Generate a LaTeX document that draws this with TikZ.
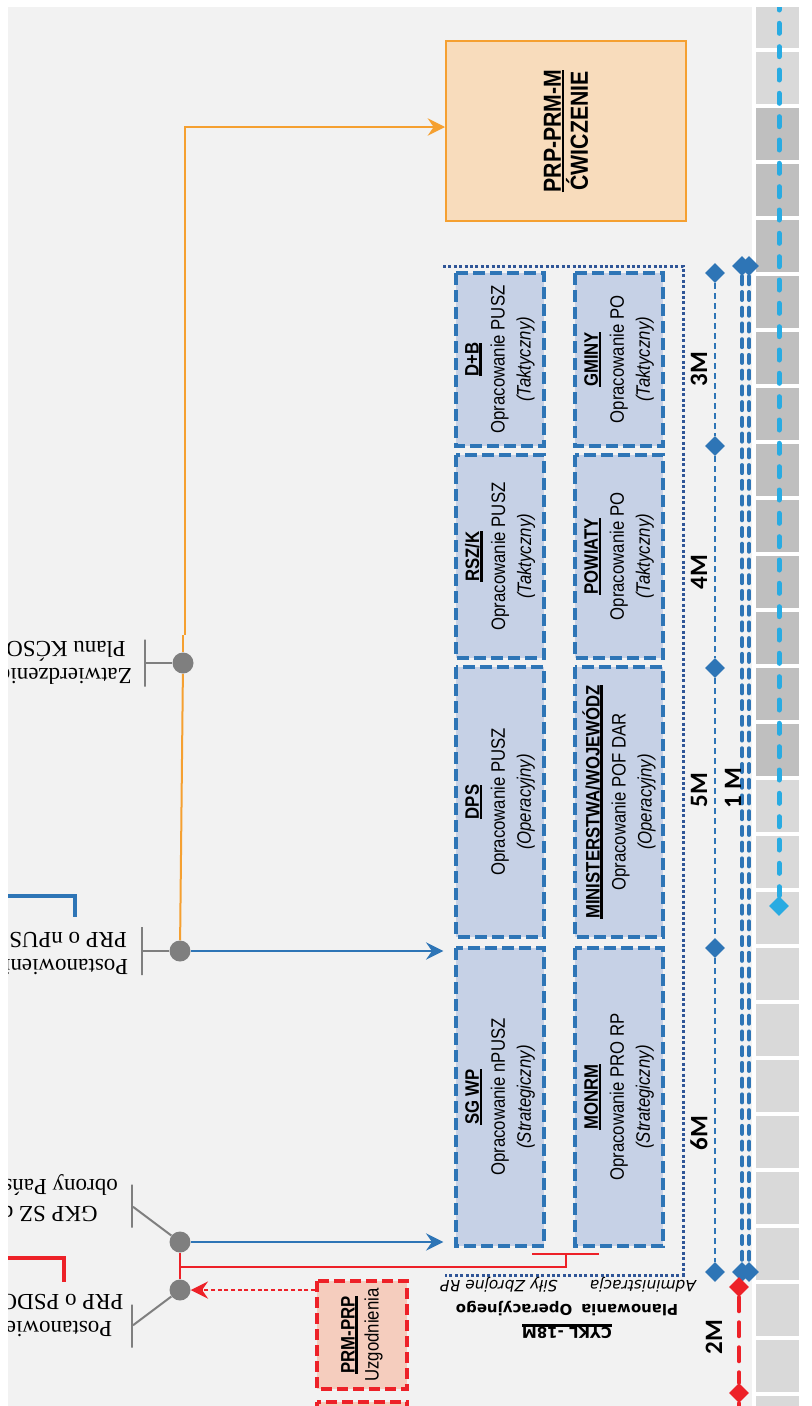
\documentclass[tikz,border=0pt]{standalone}
\usepackage{fontspec}
\usetikzlibrary{arrows.meta,shapes.geometric}
\setmainfont{Liberation Sans}
\newfontfamily\boxfont[FakeStretch=0.86]{Liberation Sans}
\newfontfamily\labelfont{Liberation Serif}
\newfontfamily\cyklfont{DejaVu Sans}
\newfontfamily\periodfont{Carlito}
\newsavebox\ttlbox
\newcommand{\ttl}[1]{\sbox\ttlbox{#1}\rlap{\rule[-2.6pt]{\wd\ttlbox}{2pt}}\usebox\ttlbox}
\newcommand{\plantxt}[3]{\textbf{\ttl{#1}}\\#2\\\textit{(#3)}}
\definecolor{bg}{HTML}{F2F2F2}
\definecolor{tilelight}{HTML}{D9D9D9}
\definecolor{tiledark}{HTML}{BFBFBF}
\definecolor{planblue}{HTML}{2E75B6}
\definecolor{planfill}{HTML}{C6D1E6}
\definecolor{dotblue}{HTML}{2F5597}
\definecolor{skyblue}{HTML}{29ABE2}
\definecolor{cwline}{HTML}{F5A031}
\definecolor{cwfill}{HTML}{F8DCBC}
\definecolor{redline}{HTML}{ED2128}
\definecolor{redfill}{HTML}{F5CDBE}
\definecolor{dotgray}{HTML}{7F7F7F}

\begin{document}
\begin{tikzpicture}[x=0.75pt,y=-0.75pt,
    plan/.style={draw=planblue,fill=planfill,line width=3pt,dash pattern=on 9pt off 3.75pt,inner sep=0pt,rotate=90,align=center,minimum height=66pt,minimum width=#1,font=\boxfont\fontsize{14.6pt}{19.5pt}\selectfont},
    cwbox/.style={draw=cwline,fill=cwfill,line width=1.5pt,inner sep=0pt,rotate=90,align=center,minimum width=135pt,minimum height=180pt,font=\boxfont\bfseries\fontsize{18.5pt}{20.25pt}\selectfont},
    prmbox/.style={draw=redline,fill=redfill,line width=3pt,dash pattern=on 8pt off 4pt,inner sep=0pt,rotate=90,align=center,minimum width=#1,minimum height=67.5pt,font=\boxfont\fontsize{14.6pt}{18pt}\selectfont},
    hub/.style={circle,fill=dotgray,minimum size=15.75pt,inner sep=0pt},
    labtick/.style={draw=dotgray,line width=1.5pt,minimum width=0pt,minimum height=#1,inner sep=0pt},
    conn/.style={draw=dotgray,line width=1.5pt},
    lbl/.style={font=\labelfont\fontsize{17.25pt}{20.25pt}\selectfont,align=center,rotate=180,inner sep=0pt},
    milestone/.style={diamond,fill=#1,minimum size=15pt,inner sep=0pt},
    period/.style={font=\periodfont\bfseries\fontsize{18.75pt}{20pt}\selectfont,rotate=90,inner sep=0pt},
    bluelink/.style={draw=planblue,line width=1.5pt},
    orangelink/.style={draw=cwline,line width=1.5pt},
    redlink/.style={draw=redline,line width=1.5pt},
    headarrow/.style={-{Stealth[length=13pt,width=13pt,inset=4.5pt]}},
    cyclebox/.style={draw=dotblue,line width=2.25pt,dash pattern=on 2.25pt off 1.8pt},
    stepline/.style={draw=planblue,line width=1.5pt,dash pattern=on 4.5pt off 3pt},
    dblline/.style={draw=planblue,line width=3pt,line cap=round,dash pattern=on 6pt off 5.8pt},
    skyline/.style={draw=skyblue,line width=3.75pt,line cap=round,dash pattern=on 7.5pt off 10pt},
    redtime/.style={draw=redline,line width=3pt,line cap=round,dash pattern=on 10.5pt off 8.25pt},
]
\useasboundingbox (0,0) rectangle (811,1406);
\fill[white] (0,0) rectangle (811,1406);
\begin{scope}
\clip (8,7) rectangle (811,1406);
\fill[bg] (8,7) rectangle (752,1406);
\foreach \i in {0,1,14,15,...,25}
    \fill[tilelight] (756,{-4+56*\i}) rectangle (799,{48+56*\i});
\foreach \i in {2,...,13}
    \fill[tiledark] (756,{-4+56*\i}) rectangle (799,{48+56*\i});

\draw[cyclebox] (443,266) -- (683,266) -- (683,1275) -- (445,1275);

\node[plan=129.75pt] (db) at (500,359.5) {\plantxt{D+B}{Opracowanie PUSZ}{Taktyczny}};
\node[plan=152.25pt] (rszk) at (500,556.5) {\plantxt{RSZ/K}{Opracowanie PUSZ}{Taktyczny}};
\node[plan=202.5pt] (dps) at (500,802) {\plantxt{DPS}{Opracowanie PUSZ}{Operacyjny}};
\node[plan=223.5pt] (sgwp) at (500,1097) {\plantxt{SG WP}{Opracowanie nPUSZ}{Strategiczny}};
\node[plan=129.75pt] (gminy) at (619,359.5) {\plantxt{GMINY}{Opracowanie PO}{Taktyczny}};
\node[plan=152.25pt] (powiaty) at (619,556.5) {\plantxt{POWIATY}{Opracowanie PO}{Taktyczny}};
\node[plan=202.5pt] (minw) at (619,802) {\plantxt{MINISTERSTWA/WOJEWÓDZ}{Opracowanie POF DAR}{Operacyjny}};
\node[plan=223.5pt] (monrm) at (619,1097) {\plantxt{MONRM}{Opracowanie PRO RP}{Strategiczny}};

\node[cwbox] (cw) at (566,131) {\ttl{PRP-PRM-M}\\ĆWICZENIE};
\node[prmbox=81pt] (prm) at (362,1335) {\textbf{\ttl{PRM-PRP}}\\Uzgodnienia};
\node[prmbox=90pt] (prm2) at (362,1462) {};

\node[hub] (zatw) at (183,663) {};
\node[hub] (npusz) at (180,951) {};
\node[hub] (gkp) at (180,1242) {};
\node[hub] (psdo) at (180,1290) {};
\node[labtick=35.25pt] (t1) at (145,663) {};
\node[labtick=36pt] (t2) at (142,951) {};
\node[labtick=32.25pt] (t3) at (132,1206) {};
\node[labtick=32.25pt] (t4) at (132,1326) {};

\node[lbl] (zl) at (66,663) {Zatwierdzenie\\Planu KĆSO};
\node[lbl] (nl) at (61,953) {Postanowienie\\PRP o nPUSZ};
\node[lbl] (gl) at (44,1198) {GKP SZ do\\obrony Państwa};
\node[lbl] (pl) at (45,1315) {Postanowienie\\PRP o PSDO RP};

\node[font=\cyklfont\itshape\fontsize{11.6pt}{14pt}\selectfont,rotate=180,inner sep=0pt] (szr) at (499,1285) {Siły Zbrojne RP};
\node[font=\cyklfont\itshape\fontsize{11.6pt}{14pt}\selectfont,rotate=180,inner sep=0pt] (adm) at (643,1285) {Administracja};
\node[font=\cyklfont\bfseries\fontsize{11.2pt}{17.25pt}\selectfont,rotate=180,align=center,inner sep=0pt] (cykl) at (567,1320) {\ttl{CYKL -18M}\\Planowania\hspace{0.6em}Operacyjnego};

\draw[conn] (zatw) -- (t1);
\draw[conn] (npusz) -- (t2);
\draw[conn] (gkp) -- (t3);
\draw[conn] (psdo) -- (t4);

\coordinate (ok) at (185,635);
\draw[orangelink] (npusz) -- (zatw);
\draw[orangelink] (zatw) -- (zatw |- ok);
\draw[orangelink,headarrow] (ok) |- ([yshift=3pt]cw.north);
\draw[bluelink,headarrow,shorten >=8pt] (npusz) -- (sgwp.north |- npusz);
\draw[bluelink,headarrow,shorten >=8pt] (gkp) -- (sgwp.north |- gkp);

\coordinate (rj) at (180,1267);
\coordinate (rt) at (566,1254);
\coordinate (rb1) at (532,1254);
\coordinate (rb2) at (599,1254);
\draw[redlink] (gkp) -- (psdo);
\draw[redlink] (rj) -| (rt);
\draw[redlink] (rb1) -- (rb2);
\draw[redlink,line width=1pt,dash pattern=on 3pt off 2pt,headarrow] (prm.north |- psdo) -- (psdo);

\draw[planblue,line width=2.5pt] (0,896) -| (75,917);
\draw[redline,line width=3pt] (0,1258) -| (64,1282);

\foreach \n/\y in {s1/273,s2/446,s3/668,s4/948,s5/1272}
    \node[milestone=planblue] (\n) at (715,\y) {};
\draw[stepline] (s1) -- (s2) -- (s3) -- (s4) -- (s5);

\node[milestone=planblue] (a1) at (742,266) {};
\node[milestone=planblue] (b1) at (749,266) {};
\node[milestone=planblue] (a2) at (742,1272) {};
\node[milestone=planblue] (b2) at (749,1272) {};
\draw[dblline] (a1) -- (a2);
\draw[dblline] (b1) -- (b2);

\coordinate (k0) at (779,0);
\node[milestone=skyblue] (k1) at (779,906) {};
\draw[skyline] (k0) -- (k1);

\node[milestone=redline] (r1) at (739,1287) {};
\node[milestone=redline] (r2) at (739,1393) {};
\coordinate (r3) at (739,1420);
\draw[redtime] (r1) -- (r2) -- (r3);

\node[period] (p3) at (699,369) {3M};
\node[period] (p4) at (699,572) {4M};
\node[period] (p5) at (699,790) {5M};
\node[period] (p6) at (699,1133) {6M};
\node[period] (p2) at (714,1337) {2M};
\node[period] (p1) at (733,788) {1 M};
\end{scope}
\end{tikzpicture}
\end{document}
